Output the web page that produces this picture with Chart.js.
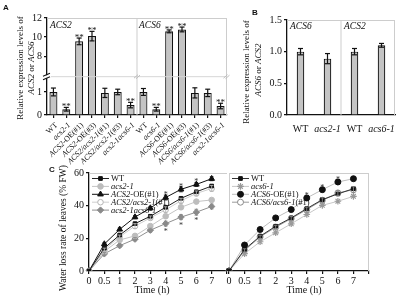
<!DOCTYPE html>
<html>
<head>
<meta charset="utf-8">
<script src="https://cdn.jsdelivr.net/npm/chart.js@4.4.1/dist/chart.umd.min.js"></script>
<style>
html, body { margin: 0; padding: 0; background: #fff; }
#fig { position: relative; width: 400px; height: 297px; overflow: hidden; background: #fff; }
#fig canvas { position: absolute; }
</style>
</head>
<body>
<div id="fig">
  <canvas id="cA" width="232" height="168" style="left:0;top:0"></canvas>
  <canvas id="cB" width="168" height="160" style="left:232px;top:0"></canvas>
  <canvas id="cC1" width="232" height="137" style="left:0;top:160px"></canvas>
  <canvas id="cC2" width="180" height="137" style="left:220px;top:160px"></canvas>
</div>
<script>
// ---- panel A: relative expression (broken y axis)
const acs2Labels = ['WT', 'acs2-1', 'ACS2-OE(#1)', 'ACS2-OE(#3)', 'ACS2/acs2-1(#1)', 'ACS2/acs2-1(#3)', 'acs2-1acs6-1'];
const acs2Means = [1.0, 0.25, 9.55, 10.1, 0.96, 1.0, 0.43];
const acs2Errs = [0.17, 0.08, 0.35, 0.5, 0.2, 0.12, 0.12];
const acs2Sig = ['', '**', '**', '**', '', '', '**'];
const acs6Labels = ['WT', 'acs6-1', 'ACS6-OE(#1)', 'ACS6-OE(#3)', 'ACS6/acs6-1(#1)', 'ACS6/acs6-1(#3)', 'acs2-1acs6-1'];
const acs6Means = [1.0, 0.25, 10.6, 10.8, 0.96, 0.96, 0.39];
const acs6Errs = [0.15, 0.08, 0.15, 0.25, 0.22, 0.16, 0.12];
const acs6Sig = ['', '**', '**', '**', '', '', '**'];
const yTicksA = [0, 1, 8, 10, 12];

// ---- panel B
const bLabels = ['WT', 'acs2-1', 'WT', 'acs6-1'];
const bMeans = [1.0, 0.89, 1.0, 1.1];
const bErrs = [0.05, 0.08, 0.05, 0.03];
const yTicksB = [0, 0.5, 1.0, 1.5];

// ---- panel C: water loss (% FW)
const timeLabels = ['0', '0.5', '1', '2', '3', '4', '5', '6', '7'];
const yTicksC = [0, 20, 40, 60];
const c1WT = [0, 14, 22, 29, 33.5, 39, 44.5, 48.5, 52];
const c1Acs2 = [0, 12, 19, 21.5, 27.5, 33.5, 39, 42.5, 43.5];
const c1OE = [0, 16.5, 25.5, 33, 38.5, 45, 50, 53, 56.5];
const c1Comp = [0, 13, 21, 27.5, 32.5, 37.5, 43, 47.5, 50.5];
const c1Double = [0, 10.5, 15.5, 19.5, 25, 29, 33, 36, 39.5];
const c1OEErr = [0, 0.8, 0.8, 1, 1, 1.5, 1.5, 1.2, 1.2];
const c1CompErr = [0, 1, 1, 1.5, 1.2, 1.8, 1.5, 1.5, 1.8];
const c1DoubleErr = [0, 0.8, 1, 1, 1.2, 1.5, 1.5, 1.8, 1.5];
const c1OEStars = ['', '', '', '', '', '*', '*', '*', ''];
const c1DoubleStars = ['', '', '', '', '', '*', '*', '*', ''];

const c2WT = [0, 13.2, 21.3, 27.4, 32.5, 38.2, 43.7, 47.2, 50.4];
const c2Acs6 = [0, 10.6, 17.9, 23.4, 28.9, 34.6, 40.2, 42.7, 45.7];
const c2OE = [0, 15.9, 25.4, 32.5, 37.6, 44.7, 49.8, 54.5, 56.5];
const c2Comp = [0, 12.6, 20.9, 26.8, 32.1, 37.6, 43.3, 47.8, 49.8];
const c2OEErr = [0, 0.8, 0.8, 1, 1, 1.2, 1.2, 1.5, 1.2];
const c2CompErr = [0, 1, 1, 1.2, 1.2, 1.5, 1.5, 1.5, 1.8];
const c2OEStars = ['', '', '', '', '', '*', '*', '*', ''];

const SERIF = '"Liberation Serif", "Times New Roman", serif';
const BAR = '#c4c4c4';
const INK = '#111';
const FRAME = '#cdcdcd';
Chart.defaults.font.family = SERIF;
Chart.defaults.color = INK;

// linear scale with a gap between lowMax and highMin
class BrokenScale extends Chart.LinearScale {
  getPixelForValue(value) {
    const b = this.options.brk;
    let f;
    if (value <= b.lowMax) f = (value - this.min) / (b.lowMax - this.min) * b.lowFrac;
    else if (value >= b.highMin) f = b.highFrac + (value - b.highMin) / (this.max - b.highMin) * (1 - b.highFrac);
    else f = b.lowFrac + (value - b.lowMax) / (b.highMin - b.lowMax) * (b.highFrac - b.lowFrac);
    return this.bottom - f * (this.bottom - this.top);
  }
  getValueForPixel(pixel) {
    const b = this.options.brk;
    const f = (this.bottom - pixel) / (this.bottom - this.top);
    if (f <= b.lowFrac) return this.min + f / b.lowFrac * (b.lowMax - this.min);
    if (f >= b.highFrac) return b.highMin + (f - b.highFrac) / (1 - b.highFrac) * (this.max - b.highMin);
    return b.lowMax + (f - b.lowFrac) / (b.highFrac - b.lowFrac) * (b.highMin - b.lowMax);
  }
}
BrokenScale.id = 'broken';
BrokenScale.defaults = Chart.LinearScale.defaults;
Chart.register(BrokenScale);

// gene names italic, the rest upright
const UPRIGHT = /^(WT|-OE|\(#\d\)| or )$/;
function pieces(text) {
  return text.split(/(WT|-OE|\(#\d\)| or )/).filter(Boolean).map(t => ({ t, it: !UPRIGHT.test(t) }));
}
function drawRich(ctx, text, x, y, size, align) {
  const ps = pieces(text);
  let w = 0;
  ps.forEach(p => { ctx.font = (p.it ? 'italic ' : '') + size + 'px ' + SERIF; p.w = ctx.measureText(p.t).width; w += p.w; });
  let cx = align === 'right' ? x - w : align === 'center' ? x - w / 2 : x;
  ctx.textAlign = 'left';
  ps.forEach(p => { ctx.font = (p.it ? 'italic ' : '') + size + 'px ' + SERIF; ctx.fillText(p.t, cx, y); cx += p.w; });
}
function drawVertical(ctx, text, x, y, size, rich) {
  ctx.save();
  ctx.translate(x, y);
  ctx.rotate(-Math.PI / 2);
  ctx.fillStyle = INK;
  ctx.textBaseline = 'middle';
  if (rich) drawRich(ctx, text, 0, 0, size, 'center');
  else { ctx.font = size + 'px ' + SERIF; ctx.textAlign = 'center'; ctx.fillText(text, 0, 0); }
  ctx.restore();
}
function panelLetter(ctx, t, x, y) {
  ctx.save();
  ctx.fillStyle = INK;
  ctx.font = 'bold 8px "Liberation Sans", Arial, sans-serif';
  ctx.textAlign = 'left';
  ctx.textBaseline = 'top';
  ctx.fillText(t, x, y);
  ctx.restore();
}
function line(ctx, x0, y0, x1, y1) {
  ctx.beginPath(); ctx.moveTo(x0, y0); ctx.lineTo(x1, y1); ctx.stroke();
}
// y tick labels from the scale's own ticks
function yLabels(chart, fmt) {
  const ys = chart.scales.y, ctx = chart.ctx;
  ctx.save();
  ctx.fillStyle = INK; ctx.font = '10px ' + SERIF;
  ctx.textAlign = 'right'; ctx.textBaseline = 'middle';
  ys.ticks.forEach(t => ctx.fillText(fmt(t.value), ys.right - 5, ys.getPixelForValue(t.value)));
  ctx.restore();
}

const errorBars = {
  id: 'errorBars',
  afterDatasetsDraw(chart) {
    const ctx = chart.ctx;
    chart.data.datasets.forEach((ds, i) => {
      if (!ds.errors) return;
      const meta = chart.getDatasetMeta(i);
      const ys = chart.scales[meta.yAxisID];
      ctx.save();
      ctx.strokeStyle = ds.errColor || INK;
      ctx.lineWidth = ds.errWidth || 1.2;
      meta.data.forEach((el, j) => {
        const v = ds.data[j], e = ds.errors[j] || 0, x = el.x;
        const yHi = ys.getPixelForValue(v + e), yLo = ys.getPixelForValue(v - e);
        const cap = ds.capHalf || 2.5;
        if (e > 0) {
          line(ctx, x, yLo, x, yHi);
          line(ctx, x - cap, yHi, x + cap, yHi);
          line(ctx, x - cap, yLo, x + cap, yLo);
        }
        ctx.fillStyle = ds.starColor || INK;
        ctx.font = (ds.starSize || 9) + 'px ' + SERIF;
        ctx.textAlign = 'center';
        ctx.textBaseline = 'alphabetic';
        if (ds.sig && ds.sig[j]) ctx.fillText(ds.sig[j], x, yHi + 2);
        if (ds.sigBelow && ds.sigBelow[j]) ctx.fillText(ds.sigBelow[j], x, yLo + 8);
      });
      ctx.restore();
    });
  }
};

function axisFont(size) { return { family: SERIF, size: size }; }
function tickGrid() { return { display: true, drawOnChartArea: false, offset: false, tickLength: 3, color: INK, lineWidth: 1.2 }; }

// ---------- Panel A ----------
const labelsA = acs2Labels.concat(acs6Labels);
const panelA = {
  id: 'panelA',
  beforeDatasetsDraw(chart) {
    const ctx = chart.ctx, a = chart.chartArea, xs = chart.scales.x;
    const div = (xs.getPixelForTick(6) + xs.getPixelForTick(7)) / 2;
    ctx.save();
    ctx.strokeStyle = FRAME; ctx.lineWidth = 1;
    line(ctx, a.left, a.top + 0.5, a.right, a.top + 0.5);
    line(ctx, a.right - 0.5, a.top, a.right - 0.5, a.bottom);
    line(ctx, div, a.top, div, a.bottom);
    ctx.restore();
  },
  afterDatasetsDraw(chart) {
    const ctx = chart.ctx, a = chart.chartArea, ys = chart.scales.y, xs = chart.scales.x;
    const b = ys.options.brk;
    const yb = a.bottom - (b.lowFrac + b.highFrac) / 2 * (a.bottom - a.top);
    const div = (xs.getPixelForTick(6) + xs.getPixelForTick(7)) / 2;
    ctx.save();
    ctx.strokeStyle = '#d6d6d6'; ctx.lineWidth = 1;
    line(ctx, a.left, yb, a.right, yb);
    ctx.strokeStyle = '#bdbdbd';
    [div, a.right - 0.5].forEach(x => { line(ctx, x - 3, yb + 1.5, x + 1, yb - 2); line(ctx, x - 1, yb + 2, x + 3, yb - 1.5); });
    // axis break mark
    ctx.fillStyle = '#fff';
    ctx.fillRect(a.left - 4, yb - 1.5, 8, 3);
    ctx.strokeStyle = INK; ctx.lineWidth = 1.1;
    line(ctx, a.left - 4, yb - 0.5, a.left + 3, yb - 3.5);
    line(ctx, a.left - 4, yb + 3, a.left + 3, yb);
    ctx.restore();
  },
  afterDraw(chart) {
    const ctx = chart.ctx, a = chart.chartArea, xs = chart.scales.x;
    yLabels(chart, v => String(v));
    ctx.save();
    ctx.fillStyle = INK;
    labelsA.forEach((lab, i) => {
      const px = xs.getPixelForTick(i);
      ctx.save();
      ctx.translate(px + 3, a.bottom + 9);
      ctx.rotate(-Math.PI / 4);
      ctx.textBaseline = 'middle';
      drawRich(ctx, lab, 0, 0, 8, 'right');
      ctx.restore();
    });
    const div = (xs.getPixelForTick(6) + xs.getPixelForTick(7)) / 2;
    ctx.textBaseline = 'alphabetic';
    drawRich(ctx, 'ACS2', a.left + 3, a.top + 10, 9.5, 'left');
    drawRich(ctx, 'ACS6', div + 2, a.top + 10, 9.5, 'left');
    ctx.restore();
    drawVertical(ctx, 'Relative expression levels of', 21, 68, 9, false);
    drawVertical(ctx, 'ACS2 or ACS6', 32, 68, 9, true);
    panelLetter(ctx, 'A', 3, 4);
  }
};

new Chart(document.getElementById('cA'), {
  type: 'bar',
  data: {
    labels: labelsA,
    datasets: [{
      data: acs2Means.concat(acs6Means),
      errors: acs2Errs.concat(acs6Errs),
      sig: acs2Sig.concat(acs6Sig),
      backgroundColor: BAR, borderColor: INK, borderWidth: 1.2,
      barPercentage: 0.62, categoryPercentage: 1
    }]
  },
  options: {
    responsive: false, animation: false, events: [],
    layout: { padding: { top: 18, right: 5, left: 0, bottom: 0 } },
    plugins: { legend: { display: false }, tooltip: { enabled: false } },
    scales: {
      x: {
        grid: tickGrid(), border: { color: INK, width: 1.3 },
        ticks: { display: false },
        afterFit: s => { s.height = 53; }
      },
      y: {
        type: 'broken', min: 0, max: 12,
        brk: { lowMax: 1.6, highMin: 6, lowFrac: 0.38, highFrac: 0.41 },
        afterBuildTicks: s => { s.ticks = yTicksA.map(v => ({ value: v })); },
        ticks: { display: false },
        grid: tickGrid(), border: { color: INK, width: 1.3 },
        afterFit: s => { s.width = 47; }
      }
    }
  },
  plugins: [panelA, errorBars]
});

// ---------- Panel B ----------
const panelB = {
  id: 'panelB',
  beforeDatasetsDraw(chart) {
    const ctx = chart.ctx, a = chart.chartArea, xs = chart.scales.x;
    const div = (xs.getPixelForTick(1) + xs.getPixelForTick(2)) / 2;
    ctx.save();
    ctx.strokeStyle = FRAME; ctx.lineWidth = 1;
    line(ctx, a.left, a.top + 0.5, a.right, a.top + 0.5);
    line(ctx, a.right - 0.5, a.top, a.right - 0.5, a.bottom);
    line(ctx, div, a.top, div, a.bottom);
    ctx.restore();
  },
  afterDraw(chart) {
    const ctx = chart.ctx, a = chart.chartArea, xs = chart.scales.x;
    const div = (xs.getPixelForTick(1) + xs.getPixelForTick(2)) / 2;
    yLabels(chart, v => v.toFixed(1));
    ctx.save();
    ctx.fillStyle = INK; ctx.textBaseline = 'alphabetic';
    drawRich(ctx, 'ACS6', a.left + 3, a.top + 9, 9.5, 'left');
    drawRich(ctx, 'ACS2', div + 3, a.top + 9, 9.5, 'left');
    ctx.restore();
    drawVertical(ctx, 'Relative expression levels of', 15, 72, 9, false);
    drawVertical(ctx, 'ACS6 or ACS2', 27, 70, 9, true);
    panelLetter(ctx, 'B', 20, 9);
  }
};

new Chart(document.getElementById('cB'), {
  type: 'bar',
  data: {
    labels: bLabels,
    datasets: [{
      data: bMeans, errors: bErrs,
      backgroundColor: BAR, borderColor: INK, borderWidth: 1.2,
      barPercentage: 0.28, categoryPercentage: 1
    }]
  },
  options: {
    responsive: false, animation: false, events: [],
    layout: { padding: { top: 20, right: 5, left: 0, bottom: 0 } },
    plugins: { legend: { display: false }, tooltip: { enabled: false } },
    scales: {
      x: {
        grid: { display: false }, border: { color: INK, width: 1.3 },
        ticks: {
          autoSkip: false, maxRotation: 0, padding: 0, color: INK,
          font: c => ({ family: SERIF, size: 10, style: bLabels[c.index] === 'WT' ? 'normal' : 'italic' })
        },
        afterFit: s => { s.height = 45; }
      },
      y: {
        min: 0, max: 1.5,
        afterBuildTicks: s => { s.ticks = yTicksB.map(v => ({ value: v })); },
        ticks: { display: false },
        grid: tickGrid(), border: { color: INK, width: 1.3 },
        afterFit: s => { s.width = 55; }
      }
    }
  },
  plugins: [panelB, errorBars]
});

// ---------- Panel C ----------
const catsC = timeLabels.concat(['']);

function legendC(chart) {
  const ctx = chart.ctx, a = chart.chartArea;
  const dp = Chart.helpers && Chart.helpers.drawPoint;
  chart.data.datasets.forEach((ds, i) => {
    const y = a.top + 5.5 + i * 7.9;
    const x0 = a.left + 3, x1 = x0 + 17;
    ctx.save();
    ctx.strokeStyle = ds.borderColor; ctx.lineWidth = ds.borderWidth;
    line(ctx, x0, y, x1, y);
    ctx.fillStyle = ds.pointBackgroundColor; ctx.strokeStyle = ds.pointBorderColor; ctx.lineWidth = ds.pointBorderWidth;
    if (dp) dp(ctx, { pointStyle: ds.pointStyle, radius: ds.pointRadius, borderWidth: ds.pointBorderWidth, rotation: 0 }, (x0 + x1) / 2, y);
    ctx.fillStyle = INK; ctx.textBaseline = 'middle';
    drawRich(ctx, ds.label, x1 + 2, y + 0.5, 8.5, 'left');
    ctx.restore();
  });
}

function series(label, data, color, lineColor, style, radius, fill, extra) {
  return Object.assign({
    label, data,
    borderColor: lineColor, borderWidth: 1,
    pointStyle: style, pointRadius: radius,
    pointBackgroundColor: fill, pointBorderColor: color, pointBorderWidth: 1,
    errColor: color, errWidth: 0.9, capHalf: 1.8, starColor: '#333', starSize: 8,
    tension: 0, fill: false
  }, extra || {});
}

function optionsC(pad, showY) {
  return {
    responsive: false, animation: false, events: [],
    layout: { padding: pad },
    plugins: { legend: { display: false }, tooltip: { enabled: false } },
    scales: {
      x: {
        offset: false,
        grid: tickGrid(), border: { color: INK, width: 1.3 },
        ticks: { autoSkip: false, maxRotation: 0, font: axisFont(10), color: INK, padding: 1 },
        afterFit: s => { s.height = 26; }
      },
      y: {
        display: showY, min: 0, max: 60,
        afterBuildTicks: s => { s.ticks = yTicksC.map(v => ({ value: v })); },
        ticks: { autoSkip: false, font: axisFont(10), color: INK, padding: 2 },
        grid: tickGrid(), border: { color: INK, width: 1.3 },
        afterFit: s => { s.width = showY ? 89 : 0; }
      }
    }
  };
}

const panelC1 = {
  id: 'panelC1',
  beforeDatasetsDraw(chart) {
    const ctx = chart.ctx, a = chart.chartArea;
    ctx.save();
    ctx.strokeStyle = FRAME; ctx.lineWidth = 1;
    line(ctx, a.left, a.top + 0.5, a.right, a.top + 0.5);
    ctx.restore();
  },
  afterDraw(chart) {
    const ctx = chart.ctx;
    legendC(chart);
    drawVertical(ctx, 'Water loss rate of leaves (% FW)', 63, 68, 9.5, false);
    ctx.save();
    ctx.fillStyle = INK; ctx.font = '10px ' + SERIF; ctx.textAlign = 'center'; ctx.textBaseline = 'middle';
    ctx.fillText('Time (h)', 152, 130);
    ctx.restore();
    panelLetter(ctx, 'C', 49, 6);
  }
};

new Chart(document.getElementById('cC1'), {
  type: 'line',
  data: {
    labels: catsC,
    datasets: [
      series('WT', c1WT, '#111', '#222', 'rect', 2.6, '#111'),
      series('acs2-1', c1Acs2, '#bdbdbd', '#c4c4c4', 'circle', 2.8, '#bdbdbd'),
      series('ACS2-OE(#1)', c1OE, '#111', '#111', 'triangle', 3.3, '#111', { errors: c1OEErr, sig: c1OEStars }),
      series('ACS2/acs2-1(#1)', c1Comp, '#b5b5b5', '#cfcfcf', 'circle', 2.8, '#fff', { errors: c1CompErr }),
      series('acs2-1acs6-1', c1Double, '#8a8a8a', '#8f8f8f', 'rectRot', 3.2, '#8a8a8a', { errors: c1DoubleErr, sigBelow: c1DoubleStars })
    ]
  },
  options: optionsC({ top: 13, right: 3, left: 0, bottom: 0 }, true),
  plugins: [panelC1, errorBars]
});

const panelC2 = {
  id: 'panelC2',
  beforeDatasetsDraw(chart) {
    const ctx = chart.ctx, a = chart.chartArea;
    ctx.save();
    ctx.strokeStyle = FRAME; ctx.lineWidth = 1;
    line(ctx, a.left, a.top + 0.5, a.right, a.top + 0.5);
    line(ctx, a.left + 0.5, a.top, a.left + 0.5, a.bottom);
    line(ctx, a.right - 0.5, a.top, a.right - 0.5, a.bottom);
    ctx.restore();
  },
  afterDraw(chart) {
    const ctx = chart.ctx;
    legendC(chart);
    ctx.save();
    ctx.fillStyle = INK; ctx.font = '10px ' + SERIF; ctx.textAlign = 'center'; ctx.textBaseline = 'middle';
    ctx.fillText('Time (h)', 84, 130);
    ctx.restore();
  }
};

new Chart(document.getElementById('cC2'), {
  type: 'line',
  data: {
    labels: catsC,
    datasets: [
      series('WT', c2WT, '#111', '#333', 'rect', 2.6, '#111'),
      series('acs6-1', c2Acs6, '#9a9a9a', '#c8c8c8', 'star', 3.3, '#9a9a9a', { pointBorderWidth: 1.2 }),
      series('ACS6-OE(#1)', c2OE, '#111', '#bdbdbd', 'circle', 3, '#111', { errors: c2OEErr, sig: c2OEStars }),
      series('ACS6/acs6-1(#1)', c2Comp, '#8a8a8a', '#9a9a9a', 'circle', 3, '#fff', { errors: c2CompErr })
    ]
  },
  options: optionsC({ top: 13, right: 31, left: 9, bottom: 0 }, false),
  plugins: [panelC2, errorBars]
});
</script>
</body>
</html>
